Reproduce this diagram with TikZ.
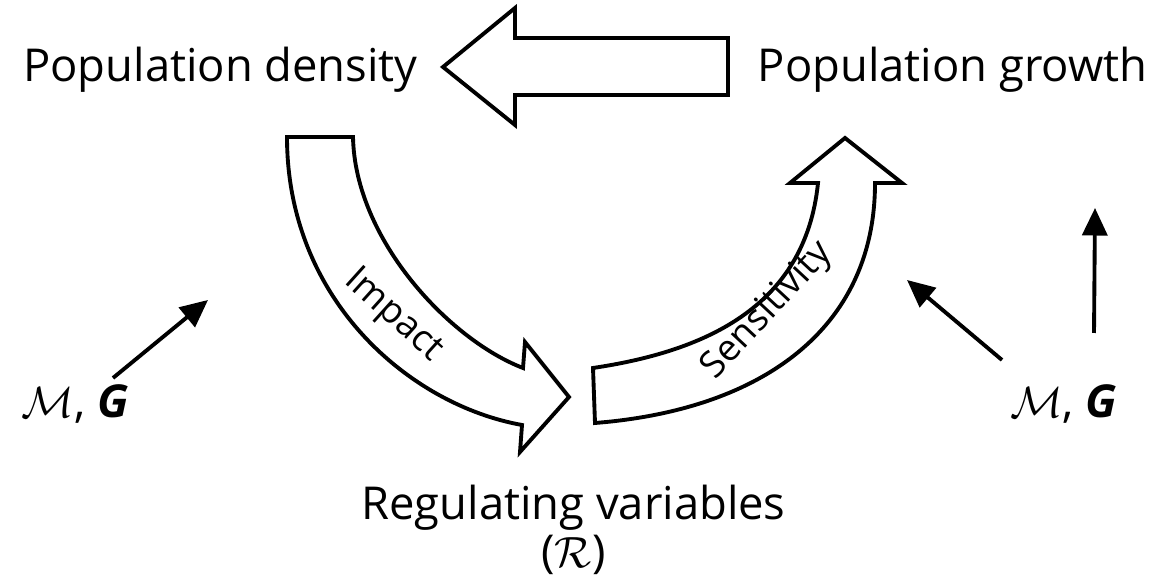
\documentclass[tikz,border=0pt]{standalone}
\usepackage{fontspec}
\setmainfont{Open Sans}
\usetikzlibrary{arrows.meta,positioning}
\tikzstyle{every path}+=[line width=2.2pt]
\tikzstyle{loop text}=[font=\fontsize{25.8}{30}\selectfont,inner sep=0pt]
\tikzstyle{band text}=[font=\fontsize{21}{25}\selectfont,inner sep=0pt]
\tikzstyle{fat arrow}=[draw,fill=white,line join=miter]
\tikzstyle{thin arrow}=[-{Triangle[length=5.5mm,width=5mm]}]

\begin{document}
\begin{tikzpicture}
    \useasboundingbox (0,0) rectangle (23.42,11.56);

    % the three corners of the loop
    \node[loop text,anchor=base] (dens) at (4.41,9.93) {Population density};
    \node[loop text,anchor=base] (grow) at (19.05,9.93) {Population growth};
    \node[loop text,anchor=base] (reg) at (11.47,1.16) {Regulating variables};
    \node[loop text,anchor=base] (rsym) at (11.47,0.2) {($\mathcal{R}$)};

    % growth feeds back into density
    \draw[fat arrow] (8.86,10.22) -- (10.3,11.4) -- (10.3,10.8) -- (14.56,10.8)
        -- (14.56,9.66) -- (10.3,9.66) -- (10.3,9.06) -- cycle;

    % density acts on the regulating variables
    \draw[fat arrow] (5.74,8.82) .. controls (5.74,5.56) and (8.2,3.46) .. (10.44,3.06)
        -- (10.4,2.52) -- (11.38,3.62) -- (10.5,4.72) -- (10.46,4.2)
        .. controls (9.0,4.76) and (7.1,6.76) .. (7.06,8.82) -- cycle;
    \node[band text,rotate=-42] (impact) at (7.86,5.24) {Impact};

    % regulating variables act on growth
    \draw[fat arrow] (11.9,3.1) .. controls (15.2,3.36) and (17.5,4.96) .. (17.5,7.9)
        -- (18.04,7.9) -- (16.9,8.8) -- (15.8,7.9) -- (16.36,7.9)
        .. controls (16.1,5.36) and (14.0,4.52) .. (11.86,4.2) -- cycle;
    \node[band text,rotate=47] (sens) at (15.36,5.34) {Sensitivity};

    % outside drivers
    \node[loop text,anchor=base] (mgl) at (1.5,3.2) {$\mathcal{M}$, \textbf{\textit{G}}};
    \node[loop text,anchor=base] (mgr) at (21.27,3.2) {$\mathcal{M}$, \textbf{\textit{G}}};
    \coordinate (mgl tail) at (2.26,4.0);
    \coordinate (mgl head) at (4.16,5.56);
    \coordinate (mgr tail) at (20.04,4.36);
    \coordinate (mgr head) at (18.14,5.96);
    \coordinate (up tail) at (21.88,4.9);
    \coordinate (up head) at (21.9,7.4);
    \draw[thin arrow] (mgl tail) -- (mgl head);
    \draw[thin arrow] (mgr tail) -- (mgr head);
    \draw[thin arrow] (up tail) -- (up head);
\end{tikzpicture}
\end{document}
